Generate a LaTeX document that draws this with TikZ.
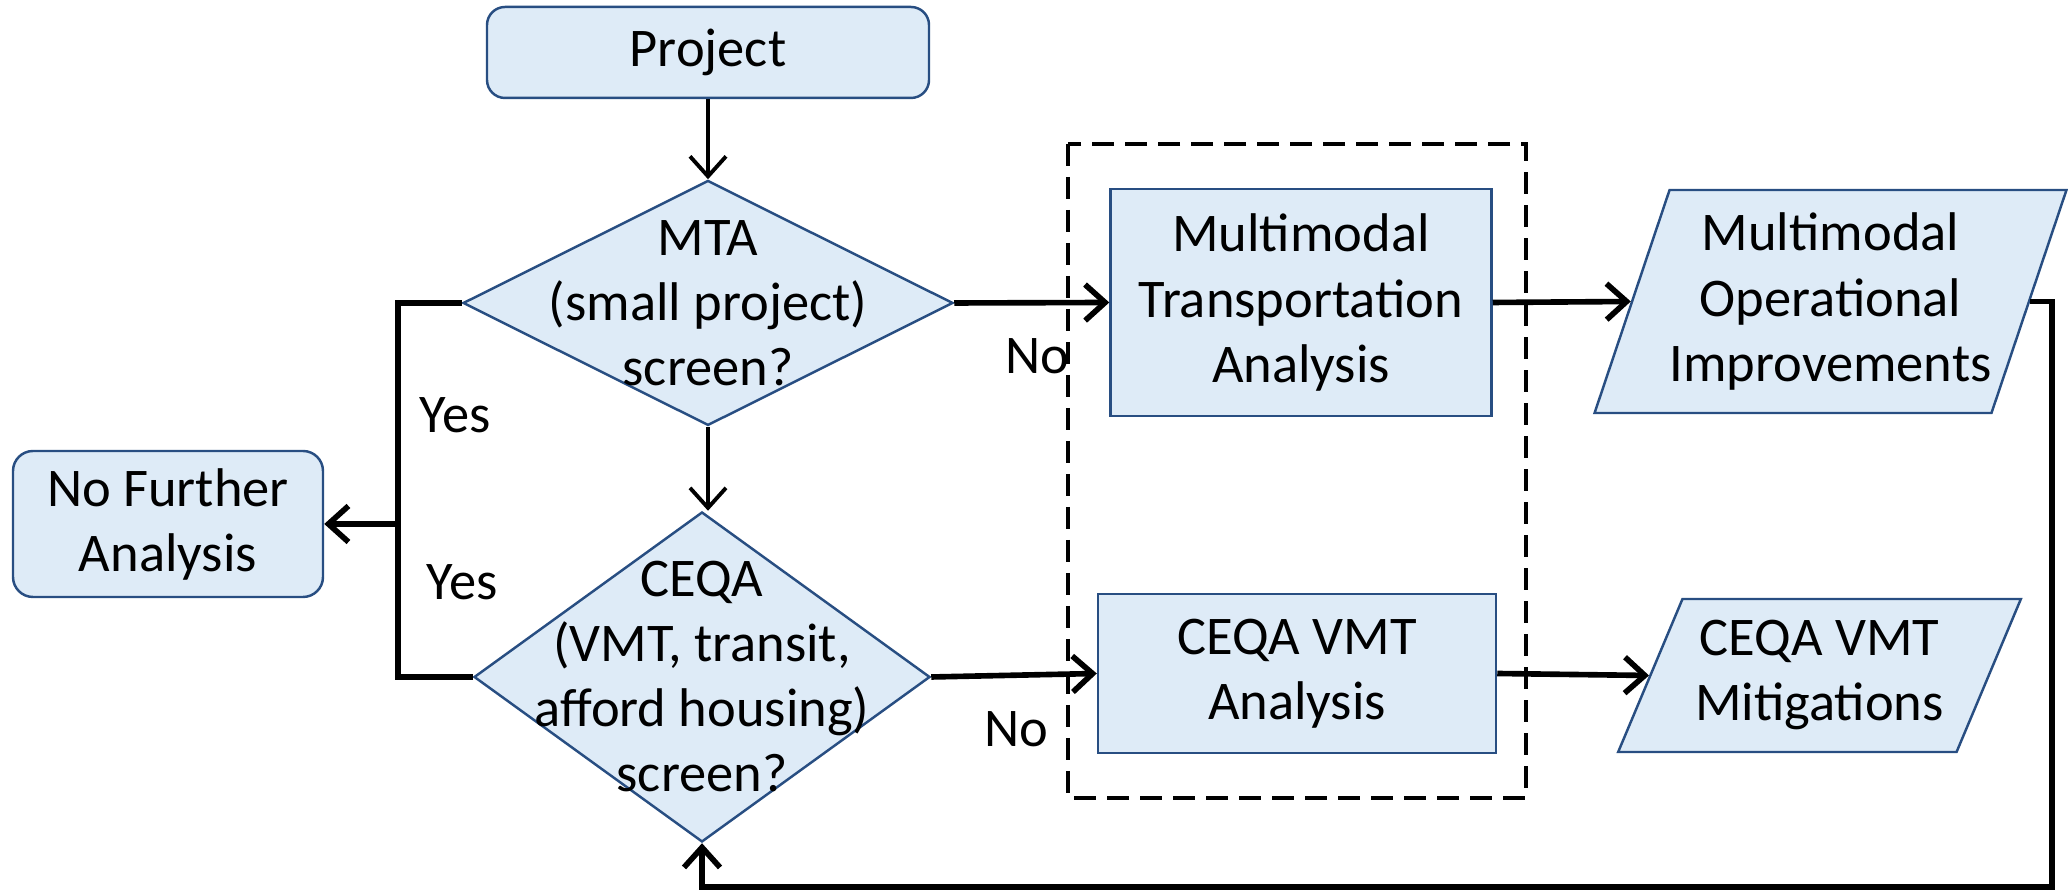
\documentclass[tikz,border=0pt]{standalone}
\usepackage{fontspec}
\setmainfont{Carlito}
\usetikzlibrary{shapes.geometric,arrows.meta}
\definecolor{boxfill}{RGB}{222,235,247}
\definecolor{boxline}{RGB}{40,78,130}

\begin{document}
\begin{tikzpicture}[x=1.0cm, y=1.0cm,
  >={Straight Barb[length=2mm,width=3.6mm]},
  every node/.style={font=\fontsize{15.5}{18.5}\selectfont},
  card/.style={draw=boxline, fill=boxfill, line width=0.7pt, inner sep=0pt},
  endbox/.style={card, rectangle, rounded corners=0.18cm},
  procbox/.style={card, rectangle, align=center},
  decision/.style={card, diamond},
  output/.style={card, trapezium, trapezium stretches=true, align=center},
  link/.style={line width=1.6pt},
  thinlink/.style={line width=1.1pt}]
  \useasboundingbox (0,0) rectangle (20.68,8.90);

  \node[endbox, minimum width=4.42cm, minimum height=0.91cm] (proj) at (7.08,8.375) {Project};
  \node[decision, minimum width=4.90cm, minimum height=2.45cm] (mta) at (7.08,5.87) {};
  \node[align=center] (mtatext) at (mta) {MTA\\(small project)\\screen?};
  \node[decision, minimum width=4.56cm, minimum height=3.30cm] (ceqa) at (7.02,2.13) {};
  \node[align=center] (ceqatext) at (ceqa) {CEQA\\(VMT, transit,\\afford housing)\\screen?};
  \node[endbox, align=center, rounded corners=0.2cm, minimum width=3.10cm, minimum height=1.46cm] (nfa) at (1.68,3.66) {No Further\\Analysis};

  \draw[line width=1.2pt, dash pattern=on 0.22cm off 0.11cm] (10.68,7.46) rectangle (15.26,0.92);
  \node[procbox, minimum width=3.81cm, minimum height=2.27cm] (mtab) at (13.01,5.875) {Multimodal\\Transportation\\Analysis};
  \node[procbox, minimum width=3.98cm, minimum height=1.59cm] (cvb) at (12.97,2.165) {CEQA VMT\\Analysis};

  \node[output, trapezium left angle=67, trapezium right angle=113, minimum width=4.71cm, minimum height=2.23cm] (moi) at (18.305,5.885) {Multimodal\\Operational\\Improvements};
  \node[output, trapezium left angle=62, trapezium right angle=118, minimum width=4.03cm, minimum height=1.53cm] (cvm) at (18.195,2.145) {CEQA VMT\\Mitigations};

  \foreach \n/\x/\y/\t in {yes1/4.55/4.75/Yes, yes2/4.62/3.08/Yes, no1/10.37/5.34/No, no2/10.16/1.61/No}
    \node (\n) at (\x,\y) {\t};

  \coordinate (yesj) at (3.98,3.66);
  \coordinate (loopr) at (20.52,0.03);

  \draw[thinlink, ->] (proj) -- (mta);
  \draw[thinlink, ->] (mta.south) -- (mta.south |- ceqa.north);
  \draw[link] (mta.west) -| (yesj) |- (ceqa.west);
  \draw[link, ->] (yesj) -- (nfa.east);
  \draw[link, ->] (mta.east) -- (mtab.west);
  \draw[link, ->] (ceqa.east) -- (cvb.west);
  \draw[link, ->] (mtab.east) -- (moi.west);
  \draw[link, ->] (cvb.east) -- (cvm.west);
  \draw[link, ->] (moi.east) -| (loopr) -| (ceqa.south);
\end{tikzpicture}
\end{document}
